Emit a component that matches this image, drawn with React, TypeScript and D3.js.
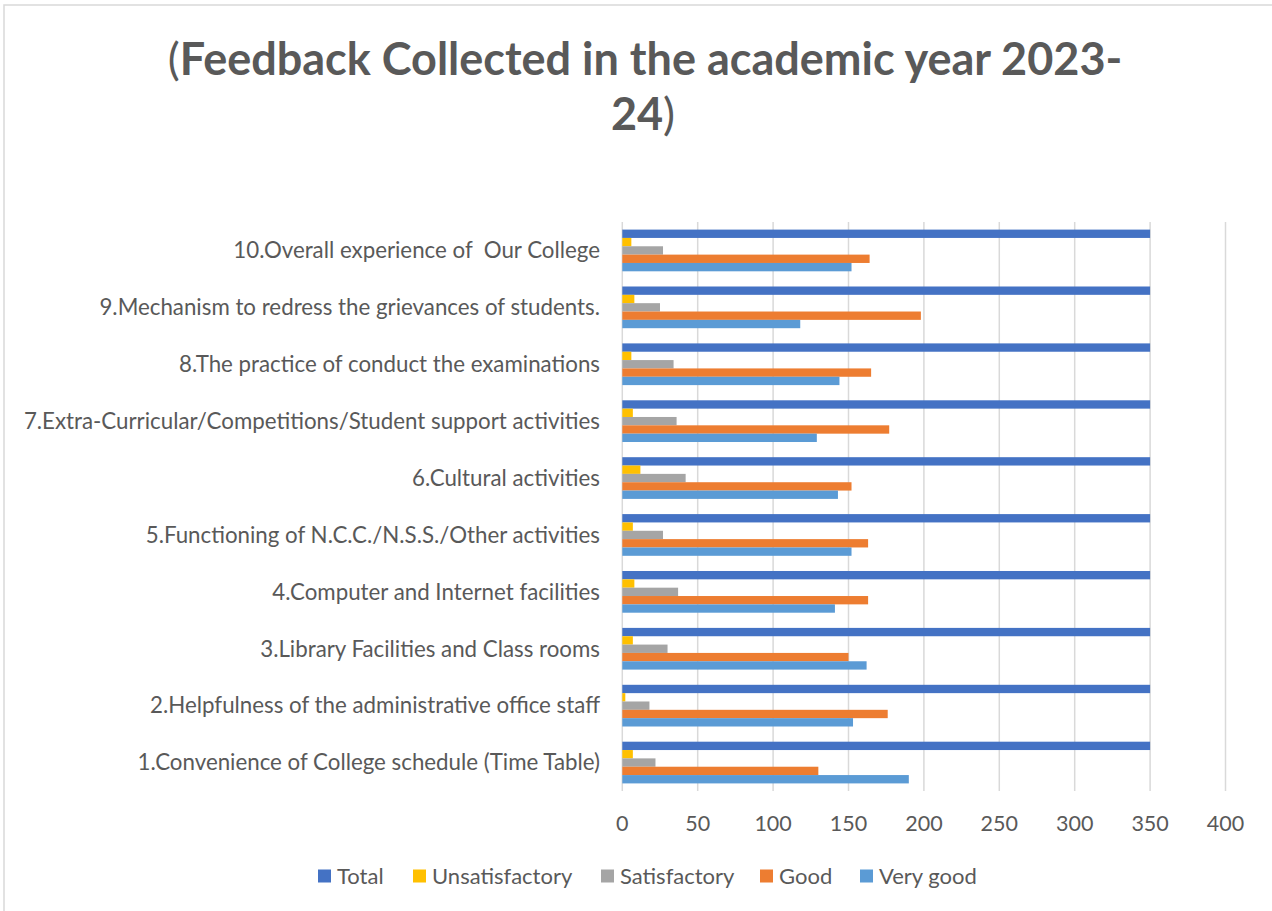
import React from "react";
import * as d3 from "d3";

const categories = [
  "1.Convenience of College schedule (Time Table)",
  "2.Helpfulness of the administrative office staff",
  "3.Library Facilities and Class rooms",
  "4.Computer and Internet facilities",
  "5.Functioning of N.C.C./N.S.S./Other activities",
  "6.Cultural activities",
  "7.Extra-Curricular/Competitions/Student support activities",
  "8.The practice of conduct the examinations",
  "9.Mechanism to redress the grievances of students.",
  "10.Overall experience of  Our College",
];
const total = [350, 350, 350, 350, 350, 350, 350, 350, 350, 350];
const unsatisfactory = [7, 2, 7, 8, 7, 12, 7, 6, 8, 6];
const satisfactory = [22, 18, 30, 37, 27, 42, 36, 34, 25, 27];
const good = [130, 176, 150, 163, 163, 152, 177, 165, 198, 164];
const veryGood = [190, 153, 162, 141, 152, 143, 129, 144, 118, 152];
const seriesNames = ["Total", "Unsatisfactory", "Satisfactory", "Good", "Very good"];
const seriesColors = ["#4472C4", "#FFC000", "#A5A5A5", "#ED7D31", "#5B9BD5"];
const xTicks = [0, 50, 100, 150, 200, 250, 300, 350, 400];
const titleLine1 = "Feedback Collected in the academic year 2023-";
const titleLine2 = "24";

const W = 1272;
const H = 911;
const FONT = "Lato, 'Open Sans', sans-serif";
const TEXT = "#595959";

export default function App() {
  const seriesValues = [total, unsatisfactory, satisfactory, good, veryGood];
  const x = d3.scaleLinear().domain([0, 400]).range([622.3, 1225.5]);
  const y = d3
    .scaleBand<string>()
    .domain([...categories].reverse())
    .range([222, 791])
    .paddingInner(0.267)
    .paddingOuter(0.1335);
  const inner = d3.scaleBand<string>().domain(seriesNames).range([0, y.bandwidth()]);

  const legendX = [318, 413, 601, 760, 860];

  return (
    <svg
      width={W}
      height={H}
      style={{ position: "absolute", left: 0, top: 0, background: "#fff" }}
      fontFamily={FONT}
    >
      <rect x={4} y={5} width={W + 10} height={H + 10} fill="#fff" stroke="#d9d9d9" strokeWidth={1.5} />
      <text x={645} y={75} textAnchor="middle" fontSize={45} fill={TEXT}>
        <tspan fontWeight="normal">(</tspan>
        <tspan fontWeight="bold">{titleLine1}</tspan>
      </text>
      <text x={643} y={130} textAnchor="middle" fontSize={45} fill={TEXT}>
        <tspan fontWeight="bold">{titleLine2}</tspan>
        <tspan fontWeight="normal">)</tspan>
      </text>

      {xTicks.map((t) => (
        <g key={t}>
          <line x1={x(t)} x2={x(t)} y1={222} y2={791} stroke="#d9d9d9" strokeWidth={1.5} />
          <text x={x(t)} y={831} textAnchor="middle" fontSize={21.5} fill={TEXT}>
            {t}
          </text>
        </g>
      ))}

      {categories.map((c, i) => (
        <g key={c} transform={`translate(0,${y(c)})`}>
          {seriesNames.map((s, k) => (
            <rect
              key={s}
              x={x(0)}
              y={inner(s)}
              width={x(seriesValues[k][i]) - x(0)}
              height={inner.bandwidth()}
              fill={seriesColors[k]}
            />
          ))}
          <text
            x={600}
            y={y.bandwidth() / 2}
            dy="0.35em"
            textAnchor="end"
            fontSize={22.3}
            fill={TEXT}
            style={{ whiteSpace: "pre" }}
          >
            {c}
          </text>
        </g>
      ))}

      {seriesNames.map((s, k) => (
        <g key={s}>
          <rect x={legendX[k]} y={869.5} width={13} height={13} fill={seriesColors[k]} />
          <text x={legendX[k] + 19} y={876} dy="0.35em" fontSize={22} fill={TEXT}>
            {s}
          </text>
        </g>
      ))}
    </svg>
  );
}
